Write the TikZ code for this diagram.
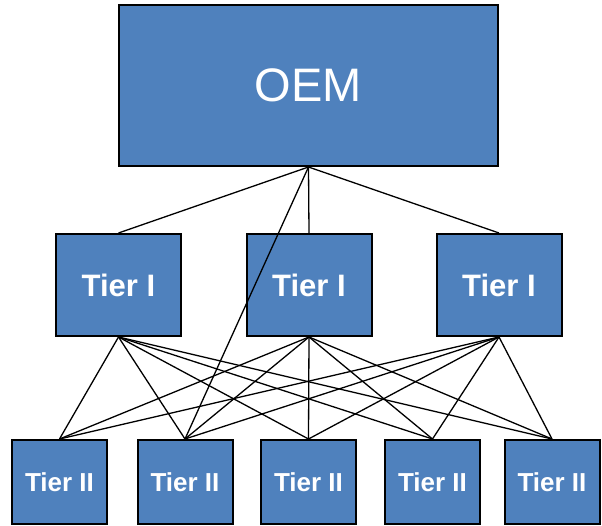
\documentclass[tikz,border=0pt]{standalone}
\usepackage{fontspec}
\setmainfont{Liberation Sans}
\usetikzlibrary{backgrounds}
\definecolor{tierblue}{HTML}{4F81BD}

\begin{document}
\begin{tikzpicture}[x=1pt,y=-1pt,
box/.style={draw=black,line width=2pt,fill=tierblue,text=white,inner sep=0pt},
tier one/.style={box,minimum width=125pt,minimum height=102pt,font=\bfseries\fontsize{31}{31}\selectfont},
tier two/.style={box,minimum width=95pt,minimum height=84pt,font=\bfseries\fontsize{26}{26}\selectfont},
link/.style={black,line width=1.3pt}]
\useasboundingbox (0,0) rectangle (602,526);
% The manufacturer
\node[box,minimum width=379pt,minimum height=161pt,font=\fontsize{47}{47}\selectfont] (oem) at (308.5,85.5) {OEM};
% The first tier
\foreach \name/\xx in {tierA/118.5,tierB/309,tierC/499}
  \node[tier one] (\name) at (\xx,285) {Tier I};
% The second tier
\foreach \num/\xx in {1/59.5,2/185,3/308.5,4/432.5,5/552}
  \node[tier two] (sub\num) at (\xx,482) {Tier II};

% The links
\begin{scope}[on background layer]
\foreach \name in {tierA,tierB,tierC}
{
  \draw[link] (oem.south) -- (\name.north);
  \foreach \num in {1,...,5}
    \draw[link] (\name.south) -- (sub\num.north);
}
\end{scope}
% The direct link, over the boxes
\draw[link] (oem.south) -- (sub2.north);
\end{tikzpicture}
\end{document}
